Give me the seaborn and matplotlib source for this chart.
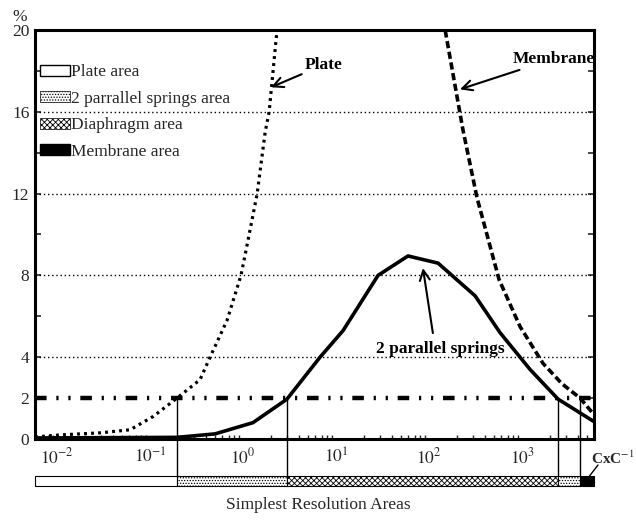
import numpy as np
import pandas as pd
import seaborn as sns
import matplotlib.pyplot as plt
from matplotlib.patches import Rectangle, Patch

# ---- data -------------------------------------------------------------
plate_x = [0.0058, 0.0108, 0.029, 0.061, 0.108, 0.195, 0.345, 0.442,
           0.673, 0.951, 1.13, 1.42, 1.73, 1.91, 2.32, 2.50]
plate_y = [0.1, 0.2, 0.3, 0.45, 1.1, 2.0, 2.9, 4.0,
           5.8, 8.0, 9.7, 12.0, 15.0, 16.0, 20.0, 21.0]

springs_x = [0.0058, 0.195, 0.50, 1.28, 2.97, 6.73, 11.9, 28.3, 59.4,
             125, 313, 580, 1220, 2440, 5940]
springs_y = [0.05, 0.08, 0.25, 0.8, 1.95, 4.0, 5.3, 8.0, 8.95,
             8.6, 7.0, 5.2, 3.4, 1.95, 0.85]

membrane_x = [142, 149, 210, 232, 328, 566, 951, 1680, 2690, 4210, 5670]
membrane_y = [20.5, 20.0, 16.2, 15.1, 11.8, 7.8, 5.5, 3.7, 2.7, 2.0, 1.3]

threshold = 2.0
area_bounds = [0.195, 2.97, 2440, 4210]          # where curves cross 2 %
area_names = ["Plate area", "2 parrallel springs area",
              "Diaphragm area", "Membrane area"]
y_ticks = [0, 2, 4, 6, 8, 10, 12, 14, 16, 18, 20]
y_labels = ["0", "2", "4", "", "8", "", "12", "", "16", "", "20"]
x_ticks = [1e-2, 1e-1, 1e0, 1e1, 1e2, 1e3]
x_labels = ["$10^{-2}$", "$10^{-1}$", "$10^{0}$", "$10^{1}$", "$10^{2}$", "$10^{3}$"]
grid_levels = [4, 8, 12, 16]
x_min, x_max = 0.0058, 5940

# ---- style ------------------------------------------------------------
sns.set_style("ticks")
plt.rcParams["font.family"] = ["Liberation Serif", "DejaVu Serif"]
plt.rcParams["mathtext.fontset"] = "stix"
plt.rcParams["hatch.linewidth"] = 0.6
FS = 12.5

fig = plt.figure(figsize=(6.36, 5.22), dpi=100)
ax = fig.add_axes([35 / 636, 1 - 439 / 522, 559 / 636, 409 / 522])
ax.set_xscale("log")
ax.set_xlim(x_min, x_max)
ax.set_ylim(0, 20)

# dotted horizontal guides
for g in grid_levels:
    ax.axhline(g, color="black", lw=1.0, ls=(0, (1, 2)), zorder=1)

# 2 % threshold line
ax.axhline(threshold, color="black", lw=3.2,
           ls=(0, (2.6, 2.2, 0.5, 2.2, 0.5, 2.2)), zorder=2)

# curves
df_p = pd.DataFrame({"x": plate_x, "y": plate_y})
df_s = pd.DataFrame({"x": springs_x, "y": springs_y})
df_m = pd.DataFrame({"x": membrane_x, "y": membrane_y})
sns.lineplot(data=df_p, x="x", y="y", ax=ax, color="black", lw=2.3,
             linestyle=(0, (0.9, 1.3)), zorder=3)
sns.lineplot(data=df_s, x="x", y="y", ax=ax, color="black", lw=2.6, zorder=3)
sns.lineplot(data=df_m, x="x", y="y", ax=ax, color="black", lw=2.6,
             linestyle=(0, (2.0, 1.0)), zorder=3)

# resolution-area bar below the axis
bar_lo, bar_hi = -2.32, -1.81
edges = [x_min] + area_bounds + [x_max]
styles = [dict(fc="white", hatch=None),
          dict(fc="white", hatch="......"),
          dict(fc="white", hatch="xxxxxx"),
          dict(fc="white", hatch="......"),
          dict(fc="black", hatch=None)]
for x0, x1, st in zip(edges[:-1], edges[1:], styles):
    ax.add_patch(Rectangle((x0, bar_lo), x1 - x0, bar_hi - bar_lo,
                           facecolor=st["fc"], hatch=st["hatch"],
                           edgecolor="black", lw=0.8, clip_on=False, zorder=4))

# separators from the 2 % crossings down to the bar
for b in area_bounds:
    ax.plot([b, b], [threshold, bar_hi], color="black", lw=1.0,
            clip_on=False, zorder=4)

# legend of areas
handles = [Patch(facecolor="white", edgecolor="black", lw=1.0),
           Patch(facecolor="white", edgecolor="black", hatch="......", lw=0.5),
           Patch(facecolor="white", edgecolor="black", hatch="xxxxxx", lw=0.5),
           Patch(facecolor="black", edgecolor="black")]
leg = ax.legend(handles, area_names, loc="upper left",
                bbox_to_anchor=(0.009, 0.916), frameon=False, fontsize=FS,
                borderpad=0, borderaxespad=0, handlelength=1.7,
                handleheight=0.6, handletextpad=0.1, labelspacing=0.6)

# ticks
ax.set_yticks(y_ticks)
ax.set_yticklabels(y_labels, fontsize=FS)
ax.set_xticks(x_ticks)
ax.set_xticklabels(x_labels, fontsize=FS)
ax.tick_params(axis="y", direction="in", length=4, width=1.2, pad=4,
               right=True)
ax.tick_params(axis="x", which="major", direction="in", length=0, pad=6)
ax.tick_params(axis="x", which="minor", direction="in", length=3, width=1.0)
ax.set_xlabel("")
ax.set_ylabel("")
for sp in ax.spines.values():
    sp.set_linewidth(2.2)
    sp.set_color("black")

# annotations
bold = dict(fontsize=FS, fontweight="bold", color="black")
arrow = dict(arrowstyle="->", color="black", lw=1.5,
             mutation_scale=18, shrinkA=0, shrinkB=0)
ax.annotate("Plate", xy=(2.0, 17.2), xytext=(4.64, 18.3),
            ha="left", va="center", arrowprops=arrow, **bold)
ax.annotate("Membrane", xy=(215, 17.1), xytext=(800, 18.6),
            ha="left", va="center", arrowprops=arrow, **bold)
ax.annotate("", xy=(86, 8.36), xytext=(110, 5.18), arrowprops=arrow)
ax.text(131, 4.4, "2 parallel springs", ha="center", va="center", **bold)

# axis captions
fig.text(20 / 636, 1 - 17 / 522, "%", fontsize=FS, ha="center", va="center")
fig.text(318 / 636, 1 - 505 / 522, "Simplest Resolution Areas",
         fontsize=FS, ha="center", va="center")
fig.text(634 / 636, 1 - 458 / 522, "CxC$^{-1}$", fontsize=11,
         ha="right", va="center", fontweight="bold")
fig.add_artist(plt.Line2D([598 / 636, 588 / 636],
                          [1 - 465 / 522, 1 - 478 / 522],
                          color="black", lw=1.0))

fig.savefig("out.png", dpi=100)
